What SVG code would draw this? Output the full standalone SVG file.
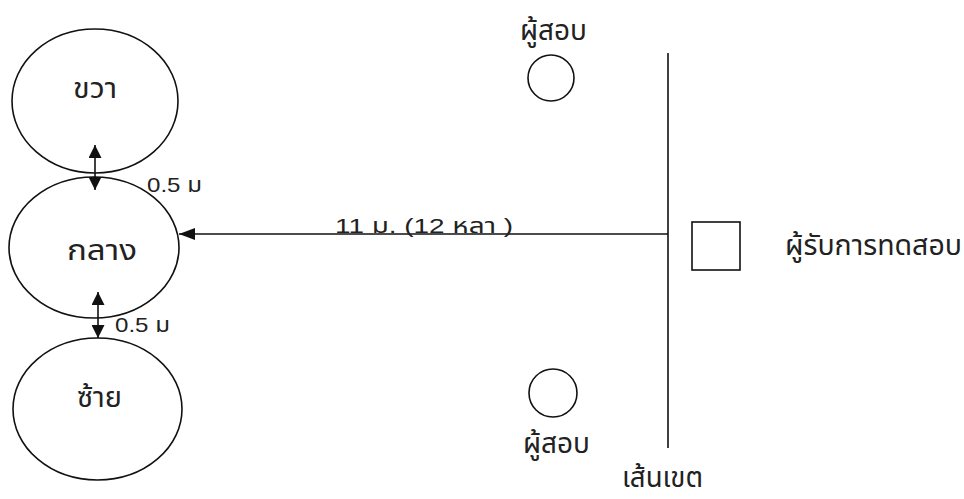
<svg xmlns="http://www.w3.org/2000/svg" width="964" height="499" viewBox="0 0 964 499">
<style>
.s{fill:none;stroke:#111;stroke-width:1.6}
.t{font-family:"Liberation Sans","Noto Sans Thai","Noto Sans",sans-serif;fill:#222}
.th{font-size:28px}
.sm{font-size:21px}
</style>
<defs>
<marker id="ah" viewBox="0 0 10 10" refX="10" refY="5" markerWidth="13" markerHeight="13" markerUnits="userSpaceOnUse" orient="auto-start-reverse"><path d="M0,0 L10,5 L0,10 z" fill="#111"/></marker>
<marker id="ahl" viewBox="0 0 16 12" refX="16" refY="6" markerWidth="16" markerHeight="12" markerUnits="userSpaceOnUse" orient="auto"><path d="M0,0 L16,6 L0,12 z" fill="#111"/></marker>
</defs>
<rect width="964" height="499" fill="#fff"/>
<g id="right">
<ellipse class="s" cx="95" cy="101" rx="83" ry="72"/>
<text class="t th" x="73" y="98" textLength="44" lengthAdjust="spacingAndGlyphs">ขวา</text>
</g>
<g id="center">
<ellipse class="s" cx="94" cy="247.5" rx="85" ry="70.5"/>
<text class="t th" x="67" y="260" textLength="70" lengthAdjust="spacingAndGlyphs">กลาง</text>
</g>
<g id="left">
<ellipse class="s" cx="97.5" cy="409" rx="84.5" ry="71"/>
<text class="t th" x="77" y="407" textLength="45" lengthAdjust="spacingAndGlyphs">ซ้าย</text>
</g>
<g id="tester-top">
<circle class="s" cx="551" cy="78" r="23"/>
<text class="t th" x="520" y="40" textLength="67" lengthAdjust="spacingAndGlyphs">ผู้สอบ</text>
</g>
<g id="tester-bottom">
<circle class="s" cx="553" cy="393" r="24"/>
<text class="t th" x="523" y="453" textLength="67" lengthAdjust="spacingAndGlyphs">ผู้สอบ</text>
</g>
<g id="boundary">
<line class="s" x1="668" y1="53" x2="668" y2="448"/>
<text class="t th" x="622" y="487" textLength="81" lengthAdjust="spacingAndGlyphs">เส้นเขต</text>
</g>
<g id="examinee">
<rect class="s" x="692" y="222" width="48" height="48"/>
<text class="t th" x="785" y="255" textLength="177" lengthAdjust="spacingAndGlyphs">ผู้รับการทดสอบ</text>
</g>
<g id="connectors">
<line class="s" x1="95" y1="145" x2="95" y2="190" marker-start="url(#ah)" marker-end="url(#ah)"/>
<line class="s" x1="98" y1="292" x2="98" y2="338" marker-start="url(#ah)" marker-end="url(#ah)"/>
<line class="s" x1="668" y1="234" x2="179" y2="234" marker-end="url(#ahl)"/>
<text class="t sm" x="147" y="192" textLength="55" lengthAdjust="spacingAndGlyphs">0.5 ม</text>
<text class="t sm" x="115" y="332" textLength="55" lengthAdjust="spacingAndGlyphs">0.5 ม</text>
<text class="t sm" x="335" y="233" textLength="178" lengthAdjust="spacingAndGlyphs">11 ม. (12 หลา )</text>
</g>
</svg>
